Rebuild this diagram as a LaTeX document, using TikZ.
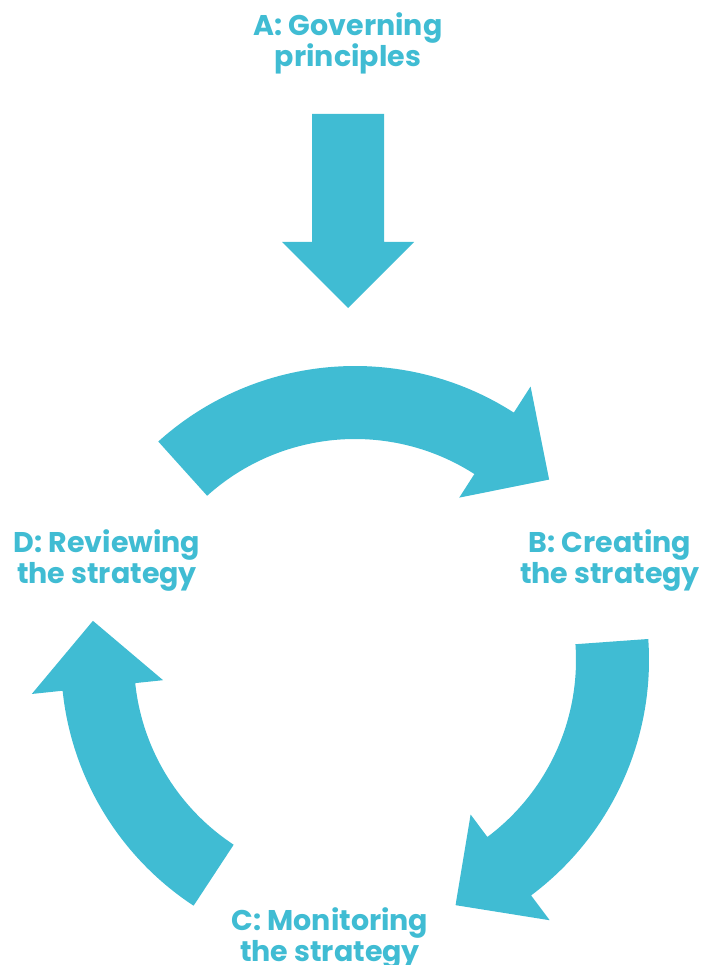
\documentclass[tikz,border=0pt]{standalone}
\usepackage{fontspec}
\newfontfamily\labfont{Poppins}
\usetikzlibrary{calc}
\definecolor{arrowblue}{HTML}{40BCD3}
\newcommand\arcarrow[3]{%
  \fill[arrowfill] ($(O)+(#1:294pt)$) arc[start angle=#1,end angle=#2,radius=294pt]
    -- ($(O)+(#2:325pt)$) -- ($(O)+(#3:265pt)$) -- ($(O)+(#2:193pt)$)
    -- ($(O)+(#2:221pt)$) arc[start angle=#2,end angle=#1,radius=221pt] -- cycle;}
\begin{document}
\begin{tikzpicture}[x=1pt,y=1pt,
  arrowfill/.style={fill=arrowblue,draw=none},
  label/.style={font=\labfont\bfseries\fontsize{28.5}{31}\selectfont,text=arrowblue,align=center,anchor=base,inner sep=0pt}]
\useasboundingbox (0,0) rectangle (713,-965);
\coordinate (O) at (355,-660);
% down arrow
\fill[arrowfill] (312,-114) -- (384,-114) -- (384,-242) -- (414,-242) -- (348,-308) -- (282,-242) -- (312,-242) -- cycle;
% cycle arrows
\arcarrow{132}{57.3}{42.9}
\arcarrow{4.1}{-53.2}{-67.7}
\arcarrow{236.7}{186}{171.5}
% labels
\node[label] (A) at (348,-67) {A: Governing\\principles};
\node[label] (B) at (610,-583) {B: Creating\\the strategy};
\node[label] (C) at (330,-961) {C: Monitoring\\the strategy};
\node[label] (D) at (107,-583) {D: Reviewing\\the strategy};
\end{tikzpicture}
\end{document}
